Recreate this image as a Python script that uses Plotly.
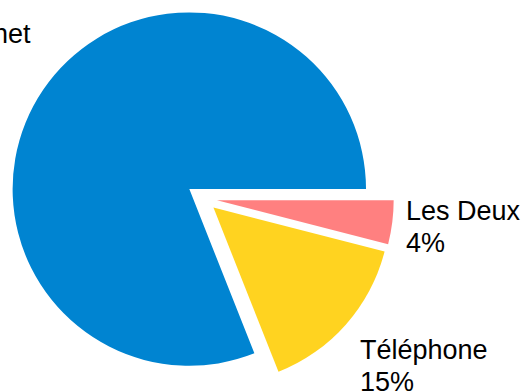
import plotly.graph_objects as go

# Share of respondents by contact channel
labels = ["Internet", "Téléphone", "Les Deux"]
values = [81, 15, 4]
colors = ["#0084D1", "#FFD320", "#FF8080"]
pulls = [0.095, 0.0773, 0.0785]

W, H = 531, 392
FONT = "Liberation Sans, Arial, sans-serif"
FS = 27

total = sum(values)
# first slice (Internet) ends at 3 o'clock; the other slices follow clockwise below it
start = 90 + 360 * (total - values[0]) / total

fig = go.Figure(
    go.Pie(
        labels=labels,
        values=values,
        sort=False,
        direction="counterclockwise",
        rotation=start,
        pull=pulls,
        marker=dict(colors=colors, line=dict(width=0)),
        textinfo="none",
        hoverinfo="label+percent",
        showlegend=False,
        domain=dict(x=[0.01544, 0.74991], y=[0.0, 0.98717]),
    )
)

pct = [f"{round(v / total * 100)}%" for v in values]

# label positions in pixels: (x, y-centre of name line, anchor)
label_pos = {
    "Internet": (32.5, 34.5, "right"),
    "Téléphone": (357.5, 349.9, "left"),
    "Les Deux": (404.0, 211.3, "left"),
}
LINE = 32

annotations = []
for name, p in zip(labels, pct):
    x, y, anchor = label_pos[name]
    annotations.append(dict(
        x=x / W, y=1 - y / H, xref="paper", yref="paper",
        text=name, showarrow=False, xanchor=anchor, yanchor="middle",
        font=dict(family=FONT, size=FS, color="#000000"),
    ))
    # percentage line sits under the start of the name, left aligned
    px = x if anchor == "left" else x - 3.391 * FS
    annotations.append(dict(
        x=px / W, y=1 - (y + LINE) / H, xref="paper", yref="paper",
        text=p, showarrow=False, xanchor="left", yanchor="middle",
        font=dict(family=FONT, size=FS, color="#000000"),
    ))

fig.update_layout(
    width=W,
    height=H,
    margin=dict(l=0, r=0, t=0, b=0),
    paper_bgcolor="#FFFFFF",
    plot_bgcolor="#FFFFFF",
    annotations=annotations,
)

fig.write_html("out.html")
